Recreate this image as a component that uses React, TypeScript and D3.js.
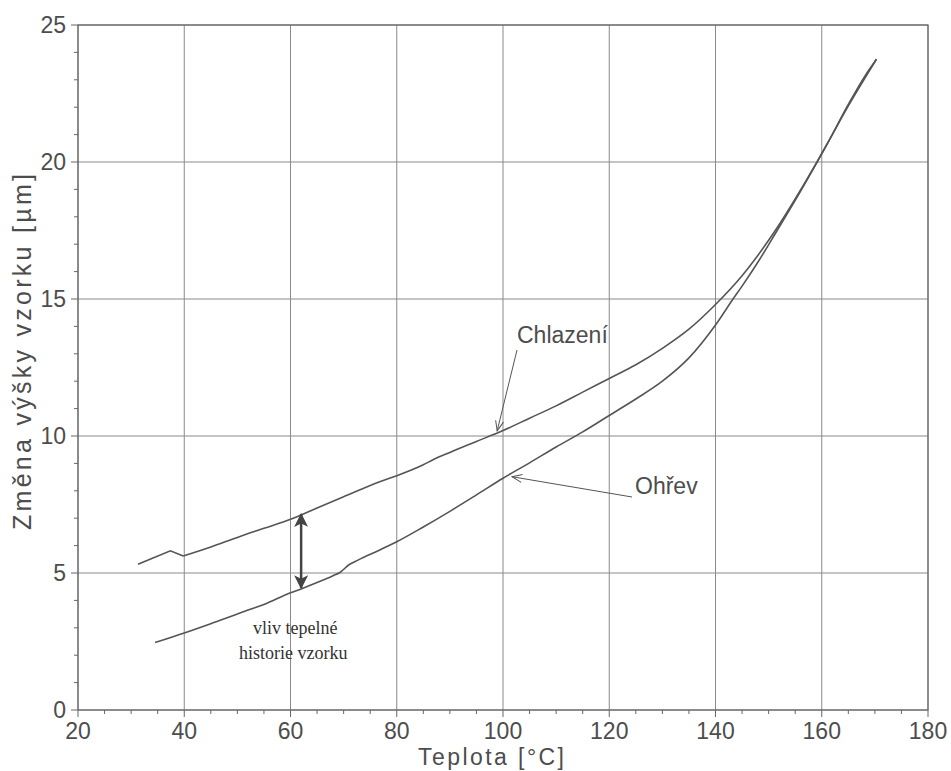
import React from "react";
import * as d3 from "d3";

// Chlazení (cooling) curve: temperature [°C] and height change [µm]
const coolingTemp = [31.3, 34, 37.4, 39.8, 45, 50, 55, 60, 62, 65, 70, 76.8, 80, 85, 87, 90, 95, 100, 105, 110, 115, 120, 125, 130, 135, 140, 145, 148, 151.6, 155, 159.1, 161.4, 165, 168, 170.3];
const coolingVal = [5.32, 5.54, 5.81, 5.62, 5.95, 6.3, 6.63, 6.96, 7.12, 7.37, 7.78, 8.33, 8.55, 8.95, 9.15, 9.4, 9.8, 10.2, 10.65, 11.1, 11.6, 12.1, 12.6, 13.2, 13.9, 14.8, 15.85, 16.6, 17.6, 18.65, 20.0, 20.8, 22.1, 23.1, 23.75];

// Ohřev (heating) curve
const heatingTemp = [34.5, 40, 45, 50, 52, 55, 60, 62, 65, 68, 69.3, 71, 72.7, 76.8, 80, 85, 90, 95, 100, 105, 110, 115, 120, 125, 130, 135, 140, 143.3, 145, 148, 151.6, 155, 160, 165, 170.3];
const heatingVal = [2.46, 2.81, 3.15, 3.5, 3.65, 3.85, 4.28, 4.42, 4.65, 4.9, 5.02, 5.3, 5.47, 5.84, 6.14, 6.68, 7.25, 7.85, 8.46, 9.02, 9.6, 10.15, 10.75, 11.35, 12.0, 12.85, 14.05, 15.0, 15.47, 16.35, 17.5, 18.6, 20.3, 22.05, 23.75];

const xTicks = [20, 40, 60, 80, 100, 120, 140, 160, 180];
const yTicks = [0, 5, 10, 15, 20, 25];

const W = 951;
const H = 771;
const left = 78, right = 928, top = 25, bottom = 710;

const font = "'Liberation Sans', Arial, sans-serif";
const serif = "'Liberation Serif', 'Times New Roman', serif";
const textColor = "#4d4d4d";
const lineColor = "#555";

export default function App() {
  const x = d3.scaleLinear().domain([20, 180]).range([left, right]);
  const y = d3.scaleLinear().domain([0, 25]).range([bottom, top]);

  const smooth = d3
    .line<[number, number]>()
    .x((d) => x(d[0]))
    .y((d) => y(d[1]))
    .curve(d3.curveMonotoneX);
  const straight = d3
    .line<[number, number]>()
    .x((d) => x(d[0]))
    .y((d) => y(d[1]));

  const cooling = coolingTemp.map((t, i) => [t, coolingVal[i]] as [number, number]);
  const heating = heatingTemp.map((t, i) => [t, heatingVal[i]] as [number, number]);

  // the small notch near 38 °C is sharp, the rest is smooth
  const coolingStart = cooling.slice(0, 4);
  const coolingRest = cooling.slice(3);

  const xMinor = d3.range(20, 181, 5).filter((v) => v % 20 !== 0);
  const yMinor = d3.range(0, 26, 1).filter((v) => v % 5 !== 0);

  // annotation anchors (data space)
  const coolTip = [98.9, 10.15];
  const heatTip = [101.7, 8.55];
  const arrowX = 62;

  return (
    <div style={{ position: "absolute", left: 0, top: 0 }}>
      <svg width={W} height={H} style={{ display: "block", background: "#fff" }}>
        <defs>
          <marker id="open" viewBox="0 0 12 12" refX="11" refY="6" markerWidth="12" markerHeight="12" orient="auto" markerUnits="userSpaceOnUse">
            <path d="M1,2 L11,6 L1,10" fill="none" stroke={lineColor} strokeWidth={1} />
          </marker>
          <marker id="solid" viewBox="0 0 12 12" refX="11" refY="6" markerWidth="14" markerHeight="14" orient="auto-start-reverse" markerUnits="userSpaceOnUse">
            <path d="M0,0 L12,6 L0,12 L3,6 Z" fill="#444" />
          </marker>
        </defs>

        {/* grid */}
        {xTicks.map((t) => (
          <line key={"gx" + t} x1={x(t)} x2={x(t)} y1={top} y2={bottom} stroke="#8a8a8a" strokeWidth={1} />
        ))}
        {yTicks.map((t) => (
          <line key={"gy" + t} x1={left} x2={right} y1={y(t)} y2={y(t)} stroke="#8a8a8a" strokeWidth={1} />
        ))}

        {/* axes frame */}
        <rect x={left} y={top} width={right - left} height={bottom - top} fill="none" stroke="#666" strokeWidth={1.2} />

        {/* ticks */}
        {xTicks.map((t) => (
          <line key={"tx" + t} x1={x(t)} x2={x(t)} y1={bottom} y2={bottom + 7} stroke="#666" />
        ))}
        {xMinor.map((t) => (
          <line key={"mx" + t} x1={x(t)} x2={x(t)} y1={bottom} y2={bottom + 4} stroke="#666" />
        ))}
        {yTicks.map((t) => (
          <line key={"ty" + t} x1={left - 7} x2={left} y1={y(t)} y2={y(t)} stroke="#666" />
        ))}
        {yMinor.map((t) => (
          <line key={"my" + t} x1={left - 4} x2={left} y1={y(t)} y2={y(t)} stroke="#666" />
        ))}

        {/* tick labels */}
        {xTicks.map((t) => (
          <text key={"lx" + t} x={x(t)} y={bottom + 29} textAnchor="middle" fontFamily={font} fontSize={23} fill={textColor}>
            {t}
          </text>
        ))}
        {yTicks.map((t) => (
          <text key={"ly" + t} x={left - 12} y={y(t) + 8} textAnchor="end" fontFamily={font} fontSize={23} fill={textColor}>
            {t}
          </text>
        ))}

        {/* axis titles */}
        <text x={418} y={765} fontFamily={font} fontSize={23} fill={textColor} textLength={146} lengthAdjust="spacing">
          Teplota [°C]
        </text>
        <text transform="translate(31,530) rotate(-90)" fontFamily={font} fontSize={25} fill={textColor} textLength={356} lengthAdjust="spacing">
          Změna výšky vzorku [µm]
        </text>

        {/* curves */}
        <path d={smooth(heating) ?? ""} fill="none" stroke={lineColor} strokeWidth={1.6} />
        <path d={straight(coolingStart) ?? ""} fill="none" stroke={lineColor} strokeWidth={1.6} />
        <path d={smooth(coolingRest) ?? ""} fill="none" stroke={lineColor} strokeWidth={1.6} />

        {/* Chlazení label */}
        <text x={517} y={343} fontFamily={font} fontSize={23} fill={textColor}>
          Chlazení
        </text>
        <line x1={517} y1={350} x2={x(coolTip[0])} y2={y(coolTip[1]) - 1} stroke={lineColor} strokeWidth={1} markerEnd="url(#open)" />

        {/* Ohřev label */}
        <text x={635} y={494} fontFamily={font} fontSize={23} fill={textColor}>
          Ohřev
        </text>
        <line x1={632} y1={497} x2={x(heatTip[0])} y2={y(heatTip[1]) + 1} stroke={lineColor} strokeWidth={1} markerEnd="url(#open)" />

        {/* thermal history arrow */}
        <line
          x1={x(arrowX)}
          x2={x(arrowX)}
          y1={y(7.15)}
          y2={y(4.45)}
          stroke="#444"
          strokeWidth={2.5}
          markerStart="url(#solid)"
          markerEnd="url(#solid)"
        />
        <text x={253} y={634} fontFamily={serif} fontSize={18} fill="#333">
          vliv tepelné
        </text>
        <text x={239} y={659} fontFamily={serif} fontSize={18} fill="#333">
          historie vzorku
        </text>
      </svg>
    </div>
  );
}
